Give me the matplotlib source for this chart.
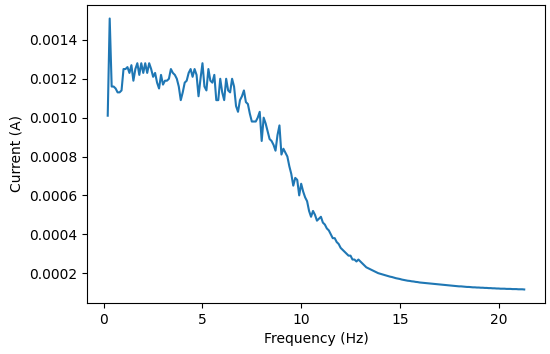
import numpy as np
import matplotlib
matplotlib.use("Agg")
import matplotlib.pyplot as plt

# current, one value every 0.1 Hz starting at 0.2 Hz
current = [
    0.00101, 0.00151, 0.00116, 0.00116, 0.00115, 0.00113, 0.00113, 0.00114, 0.00125, 0.00125,
    0.00126, 0.00123, 0.00127, 0.00119, 0.00125, 0.00128, 0.00122, 0.00128, 0.00123, 0.00128,
    0.00123, 0.00128, 0.00125, 0.00121, 0.00123, 0.00118, 0.00115, 0.00122, 0.00117, 0.00119,
    0.00119, 0.00120, 0.00125, 0.00123, 0.00122, 0.00120, 0.00116, 0.00109, 0.00113, 0.00118,
    0.00119, 0.00123, 0.00125, 0.00121, 0.00125, 0.00122, 0.00111, 0.00120, 0.00128, 0.00116,
    0.00114, 0.00125, 0.00119, 0.00118, 0.00122, 0.00109, 0.00109, 0.00120, 0.00113, 0.00109,
    0.00120, 0.00114, 0.00113, 0.00120, 0.00116, 0.00106, 0.00103, 0.00109, 0.00111, 0.00114,
    0.00108, 0.00107, 0.00102, 0.00098, 0.00098, 0.00098, 0.00100, 0.00103, 0.00088, 0.00100,
    0.00097, 0.00093, 0.00089, 0.00088, 0.00086, 0.00083, 0.00091, 0.00096, 0.00081, 0.00084,
    0.00082, 0.00080, 0.00075, 0.00071, 0.00065, 0.00069, 0.00068, 0.00060, 0.00066, 0.00062,
    0.00059, 0.00057, 0.00052, 0.00049, 0.00052, 0.00050, 0.00047, 0.00048, 0.00049, 0.00046,
    0.00045, 0.00043, 0.00042, 0.00040, 0.00038, 0.00038, 0.00036, 0.00035, 0.00033, 0.00032,
    0.00031, 0.00030, 0.00029, 0.00029, 0.00027, 0.00027, 0.00026, 0.00027, 0.00026, 0.00025,
    0.00024, 0.00023, 0.000225, 0.00022, 0.000215, 0.00021, 0.000205, 0.00020, 0.000197, 0.000194,
    0.000191, 0.000188, 0.000185, 0.000182, 0.00018, 0.000177, 0.000174, 0.000172, 0.00017, 0.000167,
    0.000165, 0.000163, 0.000161, 0.00016, 0.000158, 0.000157, 0.000155, 0.000154, 0.000152, 0.000151,
    0.00015, 0.000149, 0.000148, 0.000147, 0.000146, 0.000145, 0.000144, 0.000143, 0.000142, 0.000141,
    0.00014, 0.000139, 0.000138, 0.000137, 0.000136, 0.000135, 0.000134, 0.000133, 0.000132, 0.000132,
    0.000131, 0.00013, 0.000129, 0.000129, 0.000128, 0.000127, 0.000127, 0.000126, 0.000126, 0.000125,
    0.000125, 0.000124, 0.000124, 0.000123, 0.000123, 0.000122, 0.000122, 0.000121, 0.000121, 0.00012,
    0.00012, 0.00012, 0.000119, 0.000119, 0.000119, 0.000118, 0.000118, 0.000118, 0.000117, 0.000117,
    0.000117, 0.000116,
]
freq = np.round(0.2 + 0.1 * np.arange(len(current)), 1)

fig = plt.figure(figsize=(5.5, 3.54), dpi=100)
ax = fig.add_axes([0.158, 0.144, 0.833, 0.842])
ax.plot(freq, current)
ax.set_xlabel("Frequency (Hz)")
ax.set_ylabel("Current (A)")

fig.savefig("out.png", dpi=100)
